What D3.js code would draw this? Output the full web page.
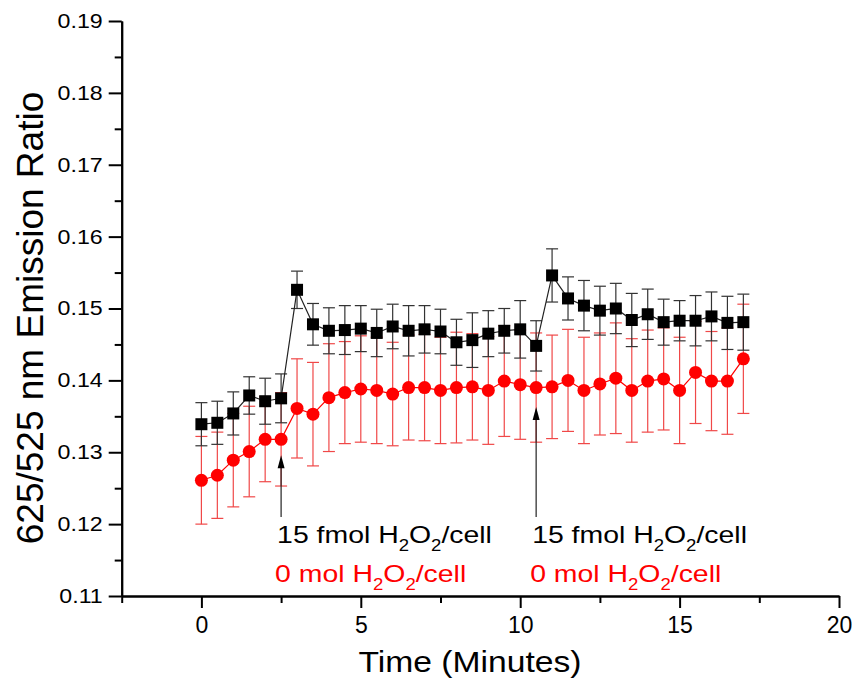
<!DOCTYPE html>
<html>
<head>
<meta charset="utf-8">
<script src="https://cdn.jsdelivr.net/npm/d3@7"></script>
<style>
  body { margin: 0; background: #fff; }
  svg { display: block; font-family: "Liberation Sans", Arial, sans-serif; }
</style>
</head>
<body>
<div id="chart"></div>
<script>
// time points (minutes)
const times = [0, 0.5, 1, 1.5, 2, 2.5, 3, 3.5, 4, 4.5, 5, 5.5, 6, 6.5, 7, 7.5, 8, 8.5,
               9, 9.5, 10, 10.5, 11, 11.5, 12, 12.5, 13, 13.5, 14, 14.5, 15, 15.5, 16, 16.5, 17];

// 15 fmol H2O2/cell (black squares)
const treated = [0.1339, 0.1341, 0.1354, 0.1379, 0.1371, 0.1375, 0.1526, 0.1478, 0.1469, 0.1470,
                 0.1472, 0.1466, 0.1475, 0.1469, 0.1471, 0.1468, 0.1453, 0.1456, 0.1465, 0.1469,
                 0.1471, 0.1448, 0.1546, 0.1514, 0.1504, 0.1497, 0.1500, 0.1484, 0.1492, 0.1481,
                 0.1483, 0.1483, 0.1489, 0.1480, 0.1481];
const treatedErr = [0.0030, 0.0030, 0.0030, 0.0026, 0.0032, 0.0034, 0.0026, 0.0029, 0.0032, 0.0034,
                    0.0032, 0.0033, 0.0031, 0.0035, 0.0033, 0.0031, 0.0032, 0.0038, 0.0032, 0.0031,
                    0.0040, 0.0035, 0.0037, 0.0030, 0.0035, 0.0034, 0.0035, 0.0037, 0.0035, 0.0032,
                    0.0028, 0.0035, 0.0034, 0.0037, 0.0039];

// 0 mol H2O2/cell (red circles)
const control = [0.1261, 0.1268, 0.1289, 0.1301, 0.1318, 0.1318, 0.1361, 0.1353, 0.1376, 0.1383,
                 0.1388, 0.1386, 0.1381, 0.1390, 0.1390, 0.1386, 0.1390, 0.1391, 0.1386, 0.1399,
                 0.1394, 0.1390, 0.1391, 0.1400, 0.1386, 0.1395, 0.1403, 0.1386, 0.1399, 0.1402,
                 0.1386, 0.1411, 0.1399, 0.1399, 0.1430];
const controlErr = [0.0061, 0.0060, 0.0065, 0.0063, 0.0059, 0.0065, 0.0069, 0.0072, 0.0075, 0.0071,
                    0.0074, 0.0074, 0.0072, 0.0073, 0.0074, 0.0074, 0.0077, 0.0074, 0.0075, 0.0077,
                    0.0076, 0.0076, 0.0072, 0.0071, 0.0074, 0.0071, 0.0077, 0.0072, 0.0071, 0.0071,
                    0.0074, 0.0071, 0.0069, 0.0074, 0.0076];

const xTicks = [0, 5, 10, 15, 20];
const xMinor = [-2.5, 2.5, 7.5, 12.5, 17.5];
const yTicks = [0.11, 0.12, 0.13, 0.14, 0.15, 0.16, 0.17, 0.18, 0.19];
const yMinor = [0.115, 0.125, 0.135, 0.145, 0.155, 0.165, 0.175, 0.185];

// injections: time and where the arrow tip sits
const injections = [
  {t: 2.5, tip: 0.1296},
  {t: 10.5, tip: 0.1363}
];

const W = 852, H = 693;
const mLeft = 121.7, mRight = 839, mTop = 21, mBottom = 596;
const stretch = 1.16;

const svg = d3.select('#chart').append('svg').attr('width', W).attr('height', H);

const sx = d3.scaleLinear().domain([-2.5, 20]).range([mLeft, mRight]);
const sy = d3.scaleLinear().domain([0.11, 0.19]).range([mBottom, mTop]);

const rows = times.map((t, i) => ({
  t: t, a: treated[i], ae: treatedErr[i], b: control[i], be: controlErr[i]
}));

// error bars
const errBars = function(g, key, ekey, color, width){
  const cap = 6;
  const sel = g.selectAll('g').data(rows).enter().append('g')
  sel.append('line')
     .attr('x1', d => sx(d.t)).attr('x2', d => sx(d.t))
     .attr('y1', d => sy(d[key] - d[ekey])).attr('y2', d => sy(d[key] + d[ekey]))
  sel.append('line')
     .attr('x1', d => sx(d.t) - cap).attr('x2', d => sx(d.t) + cap)
     .attr('y1', d => sy(d[key] + d[ekey])).attr('y2', d => sy(d[key] + d[ekey]))
  sel.append('line')
     .attr('x1', d => sx(d.t) - cap).attr('x2', d => sx(d.t) + cap)
     .attr('y1', d => sy(d[key] - d[ekey])).attr('y2', d => sy(d[key] - d[ekey]))
  g.attr('stroke', color).attr('stroke-width', width)
}

errBars(svg.append('g'), 'b', 'be', '#f04848', 1.2)
errBars(svg.append('g'), 'a', 'ae', '#333', 1.2)

// red series
svg.append('path').datum(rows)
   .attr('d', d3.line().x(d => sx(d.t)).y(d => sy(d.b)))
   .attr('fill', 'none').attr('stroke', '#f00').attr('stroke-width', 1.2)
svg.append('g').selectAll('circle').data(rows).enter().append('circle')
   .attr('cx', d => sx(d.t)).attr('cy', d => sy(d.b)).attr('r', 6.5)
   .attr('fill', '#f00')

// black series
svg.append('path').datum(rows)
   .attr('d', d3.line().x(d => sx(d.t)).y(d => sy(d.a)))
   .attr('fill', 'none').attr('stroke', '#222').attr('stroke-width', 1.2)
svg.append('g').selectAll('rect').data(rows).enter().append('rect')
   .attr('x', d => sx(d.t) - 6).attr('y', d => sy(d.a) - 6)
   .attr('width', 12).attr('height', 12)
   .attr('fill', '#000')

// axes
const styleAxis = function(g){
  g.select('.domain').attr('stroke', '#000').attr('stroke-width', 2)
  g.selectAll('.tick line').attr('stroke', '#000').attr('stroke-width', 2)
}

svg.append('g').attr('transform', `translate(0,${mBottom})`)
   .call(d3.axisBottom(sx).tickValues(xMinor).tickSize(7).tickFormat('').tickSizeOuter(0))
   .call(styleAxis)
const gx = svg.append('g').attr('transform', `translate(0,${mBottom})`)
   .call(d3.axisBottom(sx).tickValues(xTicks).tickSize(12).tickPadding(9).tickSizeOuter(0))
   .call(styleAxis)
gx.selectAll('.tick text').attr('font-size', 23).attr('fill', '#000').attr('font-family', null)

svg.append('g').attr('transform', `translate(${mLeft},0)`)
   .call(d3.axisLeft(sy).tickValues(yMinor).tickSize(7).tickFormat('').tickSizeOuter(0))
   .call(styleAxis)
const gy = svg.append('g').attr('transform', `translate(${mLeft},0)`)
   .call(d3.axisLeft(sy).tickValues(yTicks).tickSize(13).tickPadding(6)
           .tickFormat(d3.format('.2f')).tickSizeOuter(0))
   .call(styleAxis)
gy.selectAll('.tick text')
  .attr('font-size', 20).attr('fill', '#000').attr('font-family', null)
  .each(function(){
    const x = +d3.select(this).attr('x')
    d3.select(this).attr('x', 0).attr('transform', `translate(${x},0) scale(${stretch},1)`)
  })

// axis titles
svg.append('g').attr('transform', `translate(470,672) scale(${stretch},1)`)
   .append('text').attr('text-anchor', 'middle').attr('font-size', 29)
   .text('Time (Minutes)')

svg.append('text')
   .attr('transform', 'translate(43,318) rotate(-90)')
   .attr('text-anchor', 'middle').attr('font-size', 37)
   .text('625/525 nm Emission Ratio')

// arrows + labels
const arrowBottom = 517;
const ann = svg.append('g').selectAll('g').data(injections).enter().append('g')

ann.append('line')
   .attr('x1', d => sx(d.t)).attr('x2', d => sx(d.t))
   .attr('y1', arrowBottom).attr('y2', d => sy(d.tip) + 10)
   .attr('stroke', '#222').attr('stroke-width', 1.2)
ann.append('path')
   .attr('d', d => {
     const x = sx(d.t), y = sy(d.tip)
     return `M${x} ${y} L${x - 3.5} ${y + 13} L${x + 3.5} ${y + 13} Z`
   })
   .attr('fill', '#000')

const label = function(sel, dx, y, parts, color){
  const t = sel.append('g')
    .attr('transform', d => `translate(${sx(d.t) + dx},${y}) scale(${stretch},1)`)
    .append('text').attr('font-size', 24.5).attr('fill', color)
  parts.forEach(p => {
    t.append('tspan').attr('font-size', p.sub ? 16 : null)
     .attr('dy', p.sub ? 8 : (p.after ? -8 : 0))
     .text(p.s)
  })
}

const formula = [{s: 'H'}, {s: '2', sub: true}, {s: 'O', after: true}, {s: '2', sub: true}, {s: '/cell', after: true}]
label(ann, -4, 542.7, [{s: '15 fmol '}].concat(formula), '#000')
label(ann, -6, 581.7, [{s: '0 mol '}].concat(formula), '#f00')
</script>
</body>
</html>
